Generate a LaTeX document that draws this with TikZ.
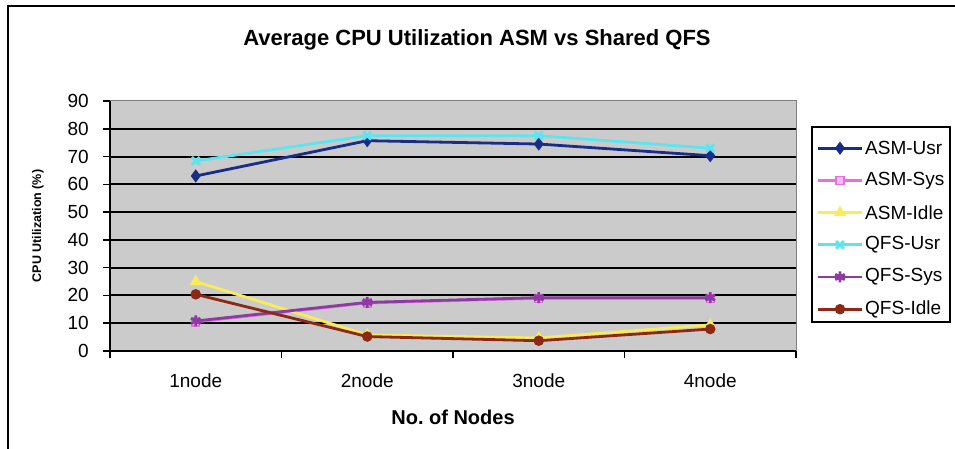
\documentclass[tikz,border=0pt]{standalone}
\usepackage{fontspec}
\setmainfont{Liberation Sans}
\usetikzlibrary{plotmarks}
\definecolor{asmusrc}{RGB}{25,45,135}
\definecolor{asmsysc}{RGB}{230,110,230}
\definecolor{asmidlec}{RGB}{250,235,90}
\definecolor{qfsusrc}{RGB}{90,230,240}
\definecolor{qfssysc}{RGB}{140,60,160}
\definecolor{qfsidlec}{RGB}{140,40,20}
\definecolor{plotbg}{RGB}{203,203,203}
\tikzset{
  gridline/.style={line width=2pt},
  series/.style={line width=2.8pt, mark size=4.6pt, mark options={solid, line width=2pt}},
  asmusr/.style={color=asmusrc, mark=diamond*, mark size=5pt},
  asmsys/.style={color=asmsysc, mark=square*, mark options={fill=asmsysc!45, line width=1.4pt}, mark size=4pt},
  asmidle/.style={color=asmidlec, mark=triangle*, mark size=5pt},
  qfsusr/.style={color=qfsusrc, mark=x, mark size=5.5pt, mark options={line width=2.8pt}},
  qfssys/.style={color=qfssysc, mark=asterisk, mark size=5.5pt, mark options={line width=2.8pt}},
  qfsidle/.style={color=qfsidlec, mark=*, mark size=4.2pt},
  ticklabel/.style={font=\fontsize{19}{19}\selectfont, inner sep=0pt},
  legtext/.style={font=\fontsize{19}{19}\selectfont, inner sep=0pt, anchor=west},
}
\begin{document}
\begin{tikzpicture}[x=1pt, y=1pt]
  \useasboundingbox (0,0) rectangle (955,449);
  \fill[white] (0,0) rectangle (955,449);
  \draw[line width=2.5pt] (8,0) -- (8,443) -- (955,443);
  \node[font=\fontsize{22}{22}\selectfont\bfseries] (title) at (477,409) {Average CPU Utilization ASM vs Shared QFS};
  \node[font=\fontsize{12.5}{12.5}\selectfont\bfseries, rotate=90] (ylab) at (38,223) {CPU Utilization (\%)};
  \node[font=\fontsize{20}{20}\selectfont\bfseries] (xlab) at (453,32) {No.\ of Nodes};
  \begin{scope}[shift={(110pt,98pt)}, x=171.5pt, y=2.778pt]
    \fill[plotbg] (0,0) rectangle (4,90);
    \draw[gray, line width=1pt] (0,90) -- (4,90) -- (4,0);
    \foreach \v in {10,20,...,80}
      \draw[gridline] (0,\v) -- (4,\v);
    % axes and ticks
    \draw[gridline] (0,90) -- (0,0) -- (4,0);
    \foreach \v in {0,10,...,90} {
      \draw[line width=1.5pt] (0,\v) -- ++(-7pt,0);
      \node[ticklabel, anchor=east] (y\v) at ([xshift=-21pt]0,\v) {\v};
    }
    \foreach \i in {0,...,4}
      \draw[line width=1.5pt] (\i,0) -- ++(0,-7pt);
    \foreach \i in {1,...,4}
      \node[ticklabel] (x\i) at ([yshift=-30pt]\i-0.5,0) {\i node};
    % data
    \draw[series, asmusr] plot coordinates {(0.5,63) (1.5,75.7) (2.5,74.5) (3.5,70.3)};
    \draw[series, asmsys] plot coordinates {(0.5,10.5) (1.5,17.3) (2.5,19) (3.5,19)};
    \draw[series, asmidle] plot coordinates {(0.5,25) (1.5,5.8) (2.5,4.7) (3.5,9.4)};
    \draw[series, qfsusr] plot coordinates {(0.5,68.4) (1.5,77.5) (2.5,77.5) (3.5,73)};
    \draw[series, qfssys] plot coordinates {(0.5,10.8) (1.5,17.5) (2.5,19.2) (3.5,19.2)};
    \draw[series, qfsidle] plot coordinates {(0.5,20.4) (1.5,5.2) (2.5,3.7) (3.5,7.9)};
  \end{scope}
  % legend
  \draw[line width=1.5pt] (812,127) rectangle (950,322);
  \foreach \s/\t [count=\k] in {asmusr/ASM-Usr, asmsys/ASM-Sys, asmidle/ASM-Idle, qfsusr/QFS-Usr, qfssys/QFS-Sys, qfsidle/QFS-Idle} {
    \draw[series, \s] plot[mark indices={2}] coordinates {(818,333-32.2*\k) (840,333-32.2*\k) (862,333-32.2*\k)};
    \node[legtext] (leg\k) at (865,333-32.2*\k) {\t};
  }
\end{tikzpicture}
\end{document}
